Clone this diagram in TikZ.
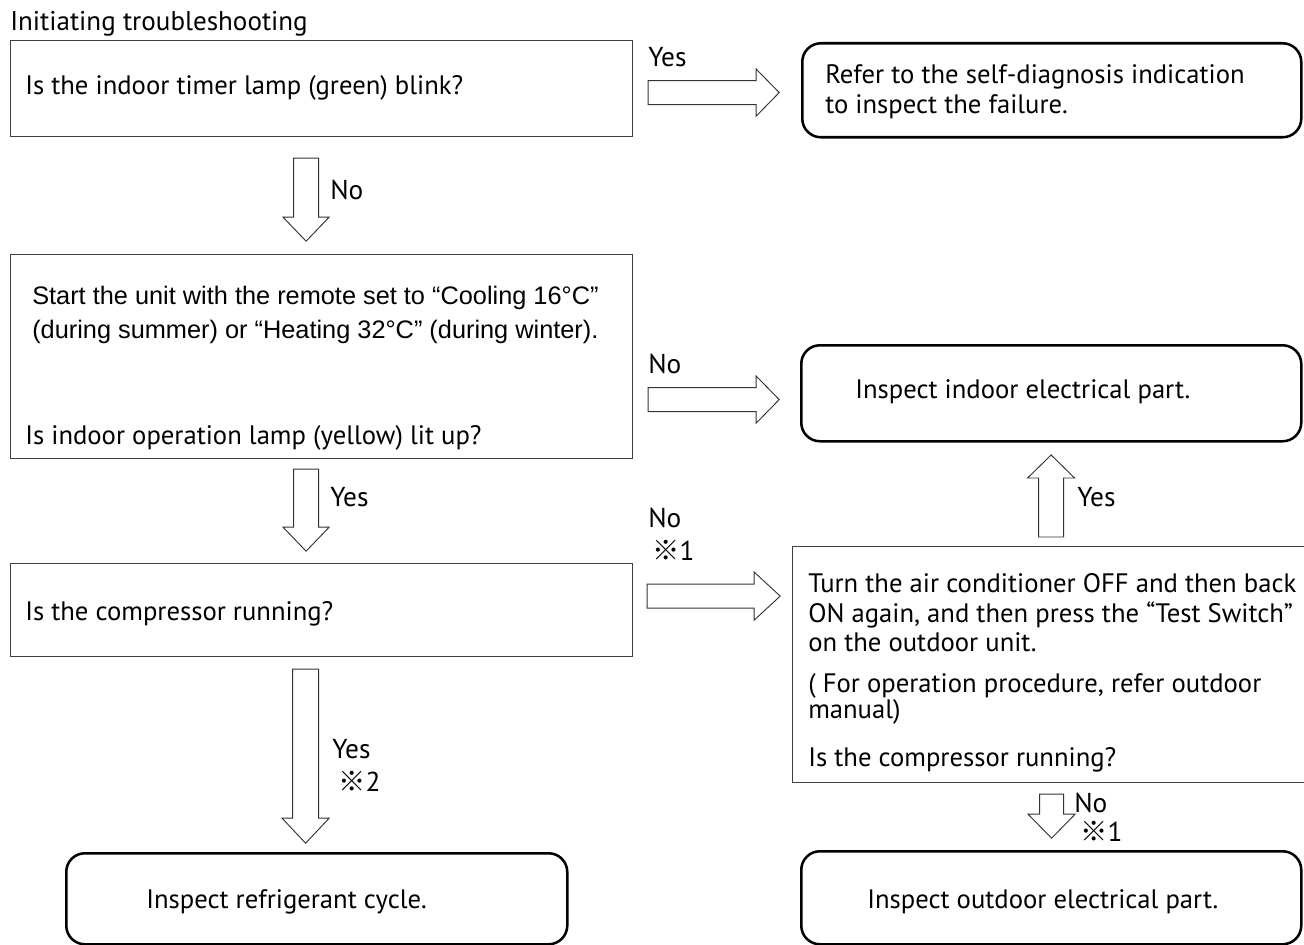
\documentclass[tikz,border=0pt]{standalone}
\usepackage{fontspec}
\setmainfont{PT Sans}
\newfontfamily\arialf{Liberation Sans}
\newfontfamily\cjk{Noto Sans CJK JP}
\usetikzlibrary{calc}
\newcommand\mkbox[6]{\node[#2,minimum width={(#5-#3)*0.75pt},minimum height={(#6-#4)*0.75pt}] (#1) at (#3,#4) {};}
\newcommand\blockarr[7]{\draw[blockarrow,shift={(#2)},rotate=#3] (0,-#6) -- ({#4-#5},-#6) -- ({#4-#5},-#7) -- (#4,0) -- ({#4-#5},#7) -- ({#4-#5},#6) -- (0,#6) -- cycle;}
\begin{document}
\begin{tikzpicture}[x=0.75pt,y=-0.75pt,
  plainbox/.style={draw=black!75,line width=0.9pt,inner sep=0,anchor=north west},
  roundbox/.style={draw=black,line width=1.9pt,rounded corners=14pt,inner sep=0,anchor=north west},
  blockarrow/.style={draw=black!80,line width=0.7pt,fill=white},
  txt/.style={anchor=base west,inner sep=0,font=\fontsize{20}{24}\selectfont},
  atxt/.style={anchor=base west,inner sep=0,font=\arialf\fontsize{19}{23}\selectfont},
  ttl/.style={anchor=base west,inner sep=0,font=\fontsize{20.3}{24}\selectfont},
  lbl/.style={anchor=base west,inner sep=0,font=\fontsize{20.5}{24}\selectfont},
]
\useasboundingbox (0,0) rectangle (1304,945);
\fill[white] (0,0) rectangle (1304,945);

% boxes
\mkbox{b1}{plainbox}{10}{40}{632}{136}
\mkbox{b2}{plainbox}{10}{254}{632}{458}
\mkbox{b3}{plainbox}{10}{563}{632}{656}
\mkbox{r1}{roundbox}{801}{42}{1300}{136}
\mkbox{r2}{roundbox}{800}{344}{1300}{440}
\mkbox{r3}{plainbox}{792}{546}{1312}{782}
\mkbox{r4}{roundbox}{65}{852}{566}{943}
\mkbox{r5}{roundbox}{800}{850}{1300}{943}

% texts
\node[ttl] (t0) at (10,31) {Initiating troubleshooting};
\node[txt] (t1) at (25,95) {Is the indoor timer lamp (green) blink?};
\node[txt] (t2) at (825,84) {Refer to the self-diagnosis indication};
\node[txt] (t3) at (825,114) {to inspect the failure.};
\node[atxt] (t4) at (32,305) {Start the unit with the remote set to “Cooling 16°C”};
\node[atxt] (t5) at (32,338) {(during summer) or “Heating 32°C” (during winter).};
\node[txt] (t6) at (25,444) {Is indoor operation lamp (yellow) lit up?};
\node[txt] (t7) at (855,398) {Inspect indoor electrical part.};
\node[txt] (t8) at (25,620) {Is the compressor running?};
\node[txt] (t9) at (808,592) {Turn the air conditioner OFF and then back};
\node[txt] (t10) at (808,622) {ON again, and then press the “Test Switch”};
\node[txt] (t11) at (808,651) {on the outdoor unit.};
\node[txt] (t12) at (808,692) {( For operation procedure, refer outdoor};
\node[txt] (t13) at (808,718) {manual)};
\node[txt] (t14) at (808,766) {Is the compressor running?};
\node[txt] (t15) at (146,908) {Inspect refrigerant cycle.};
\node[txt] (t16) at (867,908) {Inspect outdoor electrical part.};

% arrow start points
\coordinate (a1) at ($(b1.east)+(15,4)$);
\coordinate (a2) at ($(b1.south)+(-15.5,21)$);
\coordinate (a3) at ($(b2.east)+(15,43)$);
\coordinate (a4) at ($(b2.south)+(-15.5,10)$);
\coordinate (a5) at ($(b3.east)+(14,-14)$);
\coordinate (a6) at ($(r3.north)+(-1.5,-9)$);
\coordinate (a7) at ($(b3.south)+(-16,12)$);
\coordinate (a8) at ($(r3.south)+(-1,11)$);

\blockarr{y1}{a1}{0}{131}{23}{12}{23.5}
\blockarr{n1}{a2}{-90}{83}{24}{12.5}{23}
\blockarr{n2}{a3}{0}{131}{23}{12}{23.5}
\blockarr{y2}{a4}{-90}{82}{24}{12.5}{23}
\blockarr{n3}{a5}{0}{133}{26}{12}{24}
\blockarr{y3}{a6}{90}{82}{23}{12.5}{23.5}
\blockarr{y4}{a7}{-90}{174}{25}{13}{23.5}
\blockarr{n4}{a8}{-90}{44}{24}{12}{23.5}

% labels
\node[lbl] (l1) at (648,67) {Yes};
\node[lbl] (l2) at (330,200) {No};
\node[lbl] (l3) at (648,373) {No};
\node[lbl] (l4) at (330,506) {Yes};
\node[lbl] (l5) at (648,527) {No};
\node[lbl] (l6) at (652,560) {{\cjk ※}1};
\node[lbl] (l7) at (1077,506) {Yes};
\node[lbl] (l8) at (332,758) {Yes};
\node[lbl] (l9) at (338,791) {{\cjk ※}2};
\node[lbl] (l10) at (1074,812) {No};
\node[lbl] (l11) at (1080,841) {{\cjk ※}1};
\end{tikzpicture}
\end{document}
